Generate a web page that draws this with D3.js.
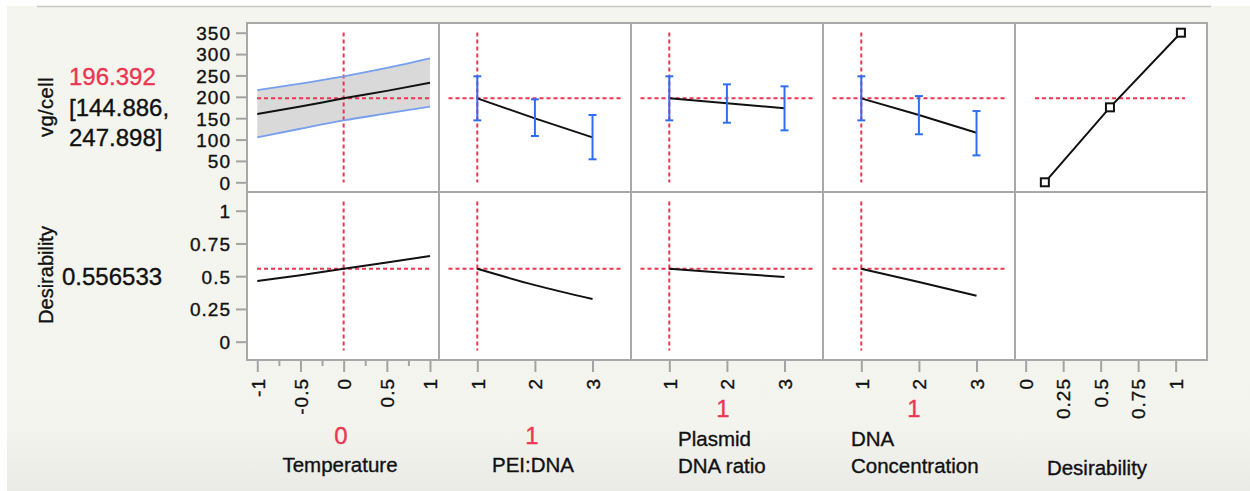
<!DOCTYPE html>
<html><head><meta charset="utf-8">
<script src="https://cdn.jsdelivr.net/npm/d3@7"></script>
<style>
html,body{margin:0;padding:0;background:#fff;}
svg{display:block;font-family:"Liberation Sans",Arial,Helvetica,sans-serif;}
svg text{stroke-width:0.35px;}
</style></head>
<body>
<svg id="c" width="1250" height="491"></svg>
<script>
// ---------------- data ----------------
const factorNames = ["Temperature", "PEI:DNA", "Plasmid DNA ratio", "DNA Concentration"];
const factorCurrent = [0, 1, 1, 1];
const responseName = "vg/cell";
const predCurrent = 196.392;
const predInterval = [144.886, 247.898];
const desirCurrent = 0.556533;

const tempX = [-1, -0.5, 0, 0.5, 1];
const tempPred = [159.7, 177.1, 196.392, 213.9, 233.0];
const tempUpper = [215.8, 231.0, 247.898, 267.5, 289.9];
const tempLower = [105.2, 125.3, 144.886, 161.0, 176.8];
const tempDes = [0.463, 0.507, 0.556533, 0.604, 0.654];

const levels = [1, 2, 3];
const peiPred = [196.392, 149.6, 105.2];
const peiLo = [144.886, 108.3, 53.8];
const peiHi = [247.898, 194.0, 157.4];
const peiDes = [0.556533, 0.432, 0.326];

const plasPred = [196.392, 184.8, 173.1];
const plasLo = [144.886, 139.4, 121.6];
const plasHi = [247.898, 229.2, 224.5];
const plasDes = [0.556533, 0.524, 0.494];

const dnaPred = [196.392, 157.4, 116.0];
const dnaLo = [144.886, 112.3, 63.0];
const dnaHi = [247.898, 201.8, 166.7];
const dnaDes = [0.556533, 0.455, 0.351];

const desFnX = [0.128, 0.562, 1.035];
const desFnY = [0, 175.4, 350];

const yTopTicks = [0, 50, 100, 150, 200, 250, 300, 350];
const yBotTicks = [0, 0.25, 0.5, 0.75, 1];
const tempTicks = [-1, -0.5, 0, 0.5, 1];
const tempMinor = [-0.75, -0.25, 0.25, 0.75];
const levelTicks = [1, 2, 3];
const desTicks = [0, 0.25, 0.5, 0.75, 1];

// ---------------- layout ----------------
const colX = [247, 439, 631, 823, 1015, 1207];
const rowY = [23, 192, 360];
const RED = "#ec3650", BLUE = "#2f6fef", FRAME = "#a8a8a8", TICK = "#a3a3a3";

const svg = d3.select("#c");
const defs = svg.append("defs");
const g1 = defs.append("linearGradient").attr("id","bg").attr("x1",0).attr("y1",0).attr("x2",0).attr("y2",1);
g1.append("stop").attr("offset","0%").attr("stop-color","#f5f5f0");
g1.append("stop").attr("offset","86%").attr("stop-color","#f4f4ef");
g1.append("stop").attr("offset","100%").attr("stop-color","#eaeae6");

svg.append("rect").attr("width",1250).attr("height",491).attr("fill","#fff");
svg.append("rect").attr("x",7).attr("y",6).attr("width",1243).attr("height",485).attr("fill","url(#bg)");
svg.append("line").attr("x1",37).attr("x2",1211).attr("y1",6.5).attr("y2",6.5).attr("stroke","#c8c8c3").attr("stroke-width",1.5);

// scales
const xTemp = d3.scaleLinear().domain([-1.119, 1.104]).range([colX[0], colX[1]]);
const xLev = [1,2,3].map(i => d3.scaleLinear().domain([0.335, 3.668]).range([colX[i], colX[i+1]]));
const xDes = d3.scaleLinear().domain([-0.071, 1.209]).range([colX[4], colX[5]]);
const yTop = d3.scaleLinear().domain([-22.7, 372.7]).range([rowY[1], rowY[0]]);
const yBot = d3.scaleLinear().domain([-0.14, 1.143]).range([rowY[2], rowY[1]]);

svg.append("rect").attr("x",colX[0]).attr("y",rowY[0]).attr("width",colX[5]-colX[0]).attr("height",rowY[2]-rowY[0]).attr("fill","#fff");

const plot = svg.append("g");
const lineGen = (xs, x, y) => d3.line().x((d,i)=>x(xs[i])).y(d=>y(d));

function crossH(c0, c1, yv, yScale, inL, inR){
  plot.append("line").attr("x1",c0+inL).attr("x2",c1-inR).attr("y1",yScale(yv)).attr("y2",yScale(yv))
    .attr("stroke",RED).attr("stroke-width",2).attr("stroke-dasharray","4,3");
}
function crossV(xp, r0, r1){
  plot.append("line").attr("x1",xp).attr("x2",xp).attr("y1",r0+9.5).attr("y2",r1-9.5)
    .attr("stroke",RED).attr("stroke-width",2).attr("stroke-dasharray","4,3");
}

// Temperature top: band
const area = d3.area().x((d,i)=>xTemp(tempX[i])).y0((d,i)=>yTop(tempLower[i])).y1(d=>yTop(d)).curve(d3.curveMonotoneX);
plot.append("path").datum(tempUpper).attr("d",area).attr("fill","#d9d9d9");
crossH(colX[0], colX[1], predCurrent, yTop, 10, 9);
crossV(xTemp(factorCurrent[0]), rowY[0], rowY[1]);
[tempUpper, tempLower].forEach(arr=>{
  plot.append("path").datum(arr).attr("d",lineGen(tempX,xTemp,yTop).curve(d3.curveMonotoneX)).attr("fill","none").attr("stroke","#76a0ee").attr("stroke-width",1.8);
});
plot.append("path").datum(tempPred).attr("d",lineGen(tempX,xTemp,yTop).curve(d3.curveMonotoneX)).attr("fill","none").attr("stroke","#111").attr("stroke-width",2);

// Temperature bottom
crossH(colX[0], colX[1], desirCurrent, yBot, 10, 9);
crossV(xTemp(factorCurrent[0]), rowY[1], rowY[2]);
plot.append("path").datum(tempDes).attr("d",lineGen(tempX,xTemp,yBot).curve(d3.curveMonotoneX)).attr("fill","none").attr("stroke","#111").attr("stroke-width",2);

// categorical factors
const catSets = [
  {pred: peiPred, lo: peiLo, hi: peiHi, des: peiDes},
  {pred: plasPred, lo: plasLo, hi: plasHi, des: plasDes},
  {pred: dnaPred, lo: dnaLo, hi: dnaHi, des: dnaDes}
];
catSets.forEach((s, k) => {
  const ci = k + 1, x = xLev[k];
  crossH(colX[ci], colX[ci+1], predCurrent, yTop, 9.5, 9.5);
  crossV(x(factorCurrent[ci]), rowY[0], rowY[1]);
  plot.append("path").datum(s.pred).attr("d",lineGen(levels,x,yTop)).attr("fill","none").attr("stroke","#111").attr("stroke-width",2);
  levels.forEach((lv,i)=>{
    const xp = x(lv);
    plot.append("line").attr("x1",xp).attr("x2",xp).attr("y1",yTop(s.lo[i])).attr("y2",yTop(s.hi[i])).attr("stroke",BLUE).attr("stroke-width",2);
    [s.lo[i], s.hi[i]].forEach(v=>{
      plot.append("line").attr("x1",xp-4).attr("x2",xp+4).attr("y1",yTop(v)).attr("y2",yTop(v)).attr("stroke",BLUE).attr("stroke-width",2);
    });
  });
  crossH(colX[ci], colX[ci+1], desirCurrent, yBot, 9.5, 9.5);
  crossV(x(factorCurrent[ci]), rowY[1], rowY[2]);
  plot.append("path").datum(s.des).attr("d",lineGen(levels,x,yBot).curve(d3.curveMonotoneX)).attr("fill","none").attr("stroke","#111").attr("stroke-width",2);
});

// desirability function panel
crossH(colX[4], colX[5], predCurrent, yTop, 20, 22);
plot.append("path").datum(desFnY).attr("d",lineGen(desFnX,xDes,yTop)).attr("fill","none").attr("stroke","#111").attr("stroke-width",2);
desFnY.forEach((v,i)=>{
  plot.append("rect").attr("x",xDes(desFnX[i])-4).attr("y",yTop(v)-4).attr("width",8).attr("height",8)
    .attr("fill","#fff").attr("stroke","#111").attr("stroke-width",2);
});

// frame
const fr = svg.append("g").attr("stroke",FRAME).attr("stroke-width",2).attr("fill","none");
fr.append("rect").attr("x",colX[0]).attr("y",rowY[0]).attr("width",colX[5]-colX[0]).attr("height",rowY[2]-rowY[0]);
colX.slice(1,5).forEach(c=>fr.append("line").attr("x1",c).attr("x2",c).attr("y1",rowY[0]).attr("y2",rowY[2]));
fr.append("line").attr("x1",colX[0]).attr("x2",colX[5]).attr("y1",rowY[1]).attr("y2",rowY[1]);

// axes
function styleAxis(g){
  g.select(".domain").remove();
  g.selectAll(".tick line").attr("stroke",TICK).attr("stroke-width",2);
  g.selectAll(".tick text").attr("fill","#111").attr("stroke","#111").style("font-size","19px").style("letter-spacing","1px")
    .style("font-family","'Liberation Sans',Arial,sans-serif");
}
const fmt = d => String(d).replace("\u2212","-");
svg.append("g").attr("transform",`translate(${colX[0]-1},0)`)
  .call(d3.axisLeft(yTop).tickValues(yTopTicks).tickSize(10).tickPadding(5).tickFormat(fmt)).call(styleAxis)
  .selectAll("text").attr("dy","0.36em");
svg.append("g").attr("transform",`translate(${colX[0]-1},0)`)
  .call(d3.axisLeft(yBot).tickValues(yBotTicks).tickSize(10).tickPadding(5).tickFormat(fmt)).call(styleAxis)
  .selectAll("text").attr("dy","0.36em");

function bottomAxis(scale, ticks){
  const g = svg.append("g").attr("transform",`translate(0,${rowY[2]+1})`)
    .call(d3.axisBottom(scale).tickValues(ticks).tickSize(11).tickFormat(fmt)).call(styleAxis);
  g.selectAll(".tick text").attr("transform","rotate(-90)").attr("x",-17).attr("y",0).attr("dy","0.36em").attr("text-anchor","end");
}
bottomAxis(xTemp, tempTicks);
svg.append("g").attr("transform",`translate(0,${rowY[2]+1})`)
  .call(d3.axisBottom(xTemp).tickValues(tempMinor).tickSize(5).tickFormat("")).call(styleAxis);
xLev.forEach(x=>bottomAxis(x, levelTicks));
bottomAxis(xDes, desTicks);

// text labels
const T = svg.append("g").attr("fill","#111").attr("stroke","#111");
T.append("text").attr("transform","translate(53,107) rotate(-90)").attr("text-anchor","middle").style("font-size","20px").style("letter-spacing","0.5px").text(responseName);
T.append("text").attr("transform","translate(53,275) rotate(-90)").attr("text-anchor","middle").style("font-size","20px").text("Desirability");
T.append("text").attr("x",69).attr("y",85).attr("fill",RED).attr("stroke",RED).style("font-size","24px").text(predCurrent.toFixed(3));
T.append("text").attr("x",69).attr("y",116).style("font-size","24px").text(`[${predInterval[0].toFixed(3)},`);
T.append("text").attr("x",69).attr("y",146).style("font-size","24px").text(`${predInterval[1].toFixed(3)}]`);
T.append("text").attr("x",62).attr("y",285).style("font-size","24px").text(String(desirCurrent));

const mid = i => (colX[i]+colX[i+1])/2;
T.append("text").attr("x",mid(0)-2).attr("y",444).attr("text-anchor","middle").attr("fill",RED).attr("stroke",RED).style("font-size","24px").text(factorCurrent[0]);
T.append("text").attr("x",mid(0)-3).attr("y",472).attr("text-anchor","middle").style("font-size","20.5px").text(factorNames[0]);
T.append("text").attr("x",mid(1)-3).attr("y",444).attr("text-anchor","middle").attr("fill",RED).attr("stroke",RED).style("font-size","24px").text(factorCurrent[1]);
T.append("text").attr("x",mid(1)-2).attr("y",472).attr("text-anchor","middle").style("font-size","20.5px").text(factorNames[1]);
T.append("text").attr("x",mid(2)-4).attr("y",417).attr("text-anchor","middle").attr("fill",RED).attr("stroke",RED).style("font-size","24px").text(factorCurrent[2]);
T.append("text").attr("x",678).attr("y",446).style("font-size","20.5px").text("Plasmid");
T.append("text").attr("x",678).attr("y",473).style("font-size","20.5px").text("DNA ratio");
T.append("text").attr("x",mid(3)-5).attr("y",417).attr("text-anchor","middle").attr("fill",RED).attr("stroke",RED).style("font-size","24px").text(factorCurrent[3]);
T.append("text").attr("x",851).attr("y",446).style("font-size","20.5px").text("DNA");
T.append("text").attr("x",851).attr("y",473).style("font-size","20.5px").text("Concentration");
T.append("text").attr("x",1097).attr("y",475).attr("text-anchor","middle").style("font-size","20.5px").text("Desirability");
</script>
</body></html>
